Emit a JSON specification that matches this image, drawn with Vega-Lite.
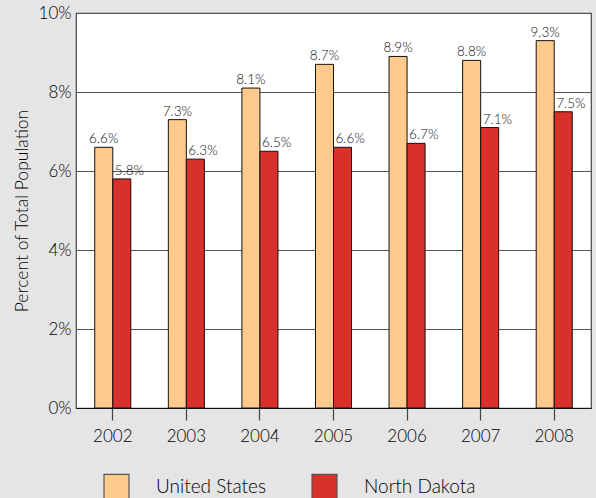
{
  "$schema": "https://vega.github.io/schema/vega-lite/v6.json",
  "width": 515,
  "height": 395,
  "autosize": {"type": "none"},
  "padding": {"left": 76, "top": 13, "right": 5, "bottom": 90},
  "background": "#e5e5e5",
  "config": {
    "font": "Lato",
    "view": {"fill": "white", "stroke": "#444", "strokeWidth": 1.2}
  },
  "data": {
    "values": [
      {"year": "2002", "series": "United States", "value": 0.066},
      {"year": "2002", "series": "North Dakota", "value": 0.058},
      {"year": "2003", "series": "United States", "value": 0.073},
      {"year": "2003", "series": "North Dakota", "value": 0.063},
      {"year": "2004", "series": "United States", "value": 0.081},
      {"year": "2004", "series": "North Dakota", "value": 0.065},
      {"year": "2005", "series": "United States", "value": 0.087},
      {"year": "2005", "series": "North Dakota", "value": 0.066},
      {"year": "2006", "series": "United States", "value": 0.089},
      {"year": "2006", "series": "North Dakota", "value": 0.067},
      {"year": "2007", "series": "United States", "value": 0.088},
      {"year": "2007", "series": "North Dakota", "value": 0.071},
      {"year": "2008", "series": "United States", "value": 0.093},
      {"year": "2008", "series": "North Dakota", "value": 0.075}
    ]
  },
  "encoding": {
    "x": {
      "field": "year", "type": "ordinal",
      "scale": {"paddingInner": 0.51, "paddingOuter": 0.255},
      "axis": {
        "title": null, "labelAngle": 0, "labelFontSize": 17, "labelFontWeight": 300, "labelColor": "#000",
        "labelPadding": 8, "tickSize": 12, "tickColor": "#444", "tickWidth": 1.2,
        "domainColor": "#111", "domainWidth": 1.2, "grid": false
      }
    },
    "xOffset": {
      "field": "series", "type": "nominal",
      "scale": {"domain": ["United States", "North Dakota"], "paddingInner": 0, "paddingOuter": 0}
    },
    "y": {
      "field": "value", "type": "quantitative",
      "scale": {"domain": [0, 0.1], "nice": false},
      "axis": {
        "title": "Percent of Total Population", "titleFontSize": 17.5, "titleFontWeight": 300,
        "titleColor": "#000", "titlePadding": 7,
        "values": [0, 0.02, 0.04, 0.06, 0.08, 0.1], "format": ".0%",
        "labelFontSize": 17, "labelFontWeight": 300, "labelColor": "#000", "labelPadding": 5,
        "ticks": false, "domain": false,
        "grid": true, "gridColor": "#555", "gridWidth": 1.2
      }
    }
  },
  "layer": [
    {
      "mark": {"type": "bar", "stroke": "#111", "strokeWidth": 1},
      "encoding": {
        "color": {
          "field": "series", "type": "nominal",
          "scale": {"domain": ["United States", "North Dakota"], "range": ["#fecb8c", "#d9312a"]},
          "legend": {
            "title": null, "orient": "none", "legendX": 27, "legendY": 460,
            "direction": "horizontal", "symbolType": "square", "symbolSize": 625,
            "symbolStrokeColor": "#555", "symbolStrokeWidth": 1.2, "symbolOpacity": 1,
            "labelFontSize": 19, "labelFontWeight": 300, "labelColor": "#000", "labelOffset": 26,
            "columnPadding": 42, "labelLimit": 300
          }
        }
      }
    },
    {
      "transform": [{"filter": "datum.series === 'United States'"}],
      "mark": {"type": "text", "baseline": "bottom", "dy": -1, "fontSize": 13.5, "fontWeight": 300, "color": "#111"},
      "encoding": {"text": {"field": "value", "type": "quantitative", "format": ".1%"}}
    },
    {
      "transform": [{"filter": "datum.series === 'North Dakota'"}],
      "mark": {"type": "text", "baseline": "bottom", "align": "left", "dx": -7, "dy": -1, "fontSize": 13.5, "fontWeight": 300, "color": "#111"},
      "encoding": {"text": {"field": "value", "type": "quantitative", "format": ".1%"}}
    }
  ]
}
